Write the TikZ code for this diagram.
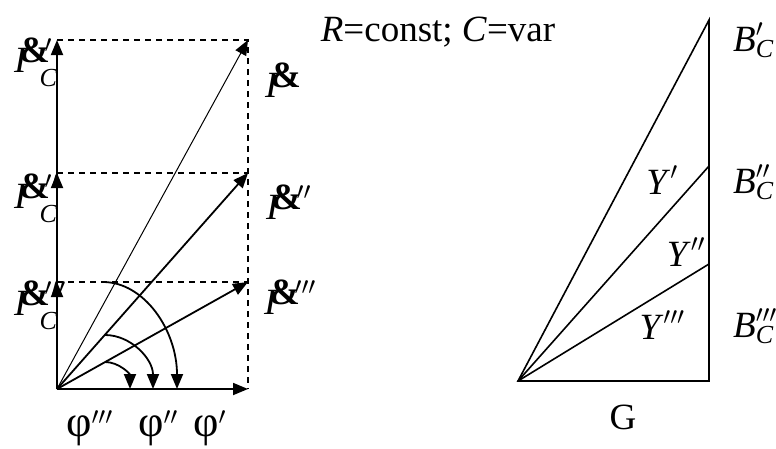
\documentclass[tikz,border=0pt]{standalone}
\usepackage{fontspec}
\setmainfont{Liberation Serif}
\usetikzlibrary{arrows.meta}

\tikzset{
  vec/.style={line width=1.8pt, -{Triangle[length=15pt,width=12pt]}},
  thinvec/.style={line width=1pt, -{Triangle[length=15pt,width=12pt]}},
  proj/.style={line width=1.4pt, dash pattern=on 6pt off 5pt},
  side/.style={line width=1.6pt},
  lbl/.style={inner sep=0pt, font=\fontsize{37}{40}\selectfont},
  phlbl/.style={inner sep=0pt, anchor=base west, font=\fontsize{44}{46}\selectfont},
}
% current phasor label: I with the dot sign, primes, subscript
\newcommand{\curI}[2]{\textit{I}\kern-.22em\raisebox{.27em}{\textbf{\&}\rlap{\kern-.16em$^{#1}$}}\kern-.3em\raisebox{-.38em}{\fontsize{26}{26}\selectfont\textit{#2}}}
\newcommand{\labB}[1]{$\mbox{\textit{B}}^{#1}_{\mbox{\fontsize{26}{26}\selectfont\textit{C}}}$}

\begin{document}
\begin{tikzpicture}[x=1pt,y=-1pt]
\useasboundingbox (0,0) rectangle (776,448);
%phasors
\coordinate (O) at (57,389);
\coordinate (Ax) at (248,389);
\coordinate (C1) at (57,40);
\coordinate (C2) at (57,173);
\coordinate (C3) at (57,282);
\coordinate (I1) at (248,40);
\coordinate (I2) at (248,173);
\coordinate (I3) at (248,282);
\draw[proj] (C1) -- (I1) -- (Ax);
\draw[proj] (C2) -- (I2);
\draw[proj] (C3) -- (I3);
\draw[vec] (O) -- (Ax);
\draw[vec] (O) -- (C1);
\draw[vec] (O) -- (C2);
\draw[vec] (O) -- (C3);
\draw[thinvec] (O) -- (I1);
\draw[vec] (O) -- (I2);
\draw[vec] (O) -- (I3);
%angles
\coordinate (a1s) at (103,282);
\coordinate (a1e) at (177,389);
\coordinate (a2s) at (105,335);
\coordinate (a2e) at (153,389);
\coordinate (a3s) at (105,362);
\coordinate (a3e) at (130,389);
\draw[vec] (a1s) .. controls +(41,0) and +(0,-59) .. (a1e);
\draw[vec] (a2s) .. controls +(26,0) and +(0,-30) .. (a2e);
\draw[vec] (a3s) .. controls +(14,0) and +(0,-15) .. (a3e);
%labels left
\node[lbl,anchor=base west] (lc1) at (14,72) {\curI{\prime}{C}};
\node[lbl,anchor=base west] (lc2) at (14,208) {\curI{\prime\prime}{C}};
\node[lbl,anchor=base west] (lc3) at (14,315) {\curI{\prime\prime\prime}{C}};
\node[lbl,anchor=base west] (li1) at (265,97) {\curI{}{}};
\node[lbl,anchor=base west] (li2) at (266,219) {\curI{\prime\prime}{}};
\node[lbl,anchor=base west] (li3) at (264,314) {\curI{\prime\prime\prime}{}};
\node[phlbl] (f3) at (66,436) {$\mbox{φ}^{\prime\prime\prime}$};
\node[phlbl] (f2) at (138,436) {$\mbox{φ}^{\prime\prime}$};
\node[phlbl] (f1) at (193,436) {$\mbox{φ}^{\prime}$};
\node[lbl] (rc) at (438,32) {\textit{R}=const; \textit{C}=var};
%triangle
\coordinate (P) at (518,381);
\coordinate (Q) at (709,381);
\coordinate (B1) at (709,20);
\coordinate (B2) at (709,166);
\coordinate (B3) at (709,264);
\draw[side] (P) -- (Q) -- (B1) -- cycle;
\draw[side] (P) -- (B2);
\draw[side] (P) -- (B3);
\node[lbl] (y1) at (662,180) {$\mbox{\textit{Y}}^{\prime}$};
\node[lbl] (y2) at (686,252) {$\mbox{\textit{Y}}^{\prime\prime}$};
\node[lbl] (y3) at (662,325) {$\mbox{\textit{Y}}^{\prime\prime\prime}$};
\node[lbl,anchor=west] (b1) at (733,40) {\labB{\prime}};
\node[lbl,anchor=west] (b2) at (733,182) {\labB{\prime\prime}};
\node[lbl,anchor=west] (b3) at (733,326) {\labB{\prime\prime\prime}};
\node[lbl] (g) at (623,417) {G};
\end{tikzpicture}
\end{document}
